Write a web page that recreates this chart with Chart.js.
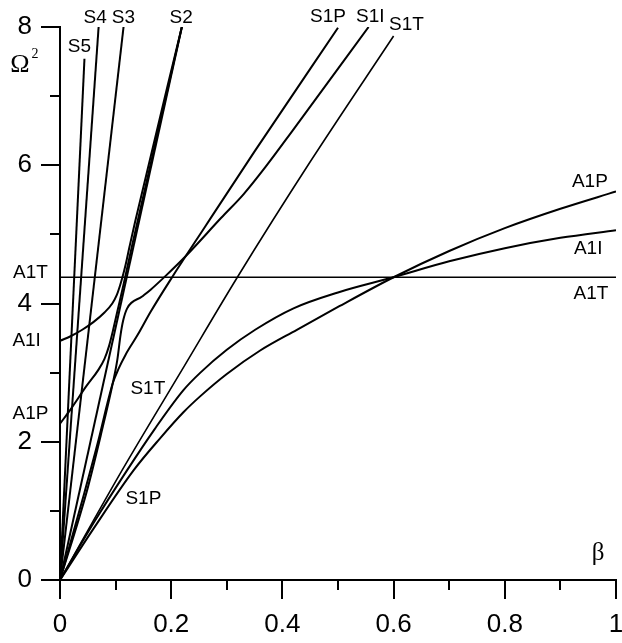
<!DOCTYPE html>
<html>
<head>
<meta charset="utf-8">
<script src="https://cdn.jsdelivr.net/npm/chart.js@4/dist/chart.umd.min.js"></script>
<style>
  html, body { margin: 0; padding: 0; background: #fff; }
  #wrap { width: 622px; height: 643px; }
</style>
</head>
<body>
<div id="wrap"><canvas id="c" width="622" height="643"></canvas></div>
<script>
// Axis ticks
const xMajor = [0, 0.2, 0.4, 0.6, 0.8, 1];
const xMinor = [0.1, 0.3, 0.5, 0.7, 0.9];
const yMajor = [0, 2, 4, 6, 8];
const yMinor = [1, 3, 5, 7];

// Dispersion branches, each point is [beta, Omega^2]
const a1T    = [[0, 4.38], [1, 4.38]];
const s5     = [[0, 0], [0.044, 7.54]];
const s4     = [[0, 0], [0.0697, 8.03]];
const s3     = [[0, 0], [0.1147, 8.03]];
const s2T    = [[0, 0], [0.220, 8.03]];
const s1T    = [[0, 0], [0.1118, 1.59], [0.2224, 3.08], [0.319, 4.38], [0.45, 6.05], [0.600, 7.87]];
// upper branches leaving A1 and following S2
const a1I_up = [[0, 3.46], [0.02, 3.53], [0.04, 3.62], [0.06, 3.73], [0.08, 3.87], [0.094, 4.00],
                [0.102, 4.12], [0.108, 4.26], [0.113, 4.40], [0.118, 4.56], [0.125, 4.82],
                [0.135, 5.18], [0.220, 8.03]];
const a1P_up = [[0, 2.26], [0.02, 2.48], [0.047, 2.80], [0.069, 3.04], [0.080, 3.20], [0.088, 3.38],
                [0.095, 3.60], [0.103, 3.88], [0.115, 4.30], [0.130, 4.85], [0.220, 8.03]];
// branches leaving S2 and ending on the S1 asymptotes
const s2I_up = [[0, 0], [0.0488, 1.30], [0.075, 2.15], [0.095, 2.85], [0.103, 3.18], [0.109, 3.55],
                [0.1135, 3.75], [0.1208, 3.93], [0.1477, 4.10], [0.163, 4.20], [0.190, 4.40],
                [0.2255, 4.68], [0.290, 5.24], [0.330, 5.58], [0.370, 5.98], [0.420, 6.52],
                [0.555, 8.00]];
const s2P_up = [[0, 0], [0.040, 1.15], [0.070, 2.05], [0.085, 2.55], [0.095, 2.85], [0.105, 3.05],
                [0.118, 3.26], [0.140, 3.55], [0.163, 3.88], [0.2016, 4.38], [0.260, 5.10],
                [0.350, 6.20], [0.500, 7.99]];
// lower branches: S1 near the origin, A1 at large beta
const s1I_low = [[0, 0], [0.06, 0.82], [0.1208, 1.59], [0.170, 2.18], [0.2224, 2.75], [0.2525, 3.00],
                 [0.300, 3.33], [0.351, 3.62], [0.420, 3.93], [0.500, 4.16], [0.600, 4.38],
                 [0.700, 4.61], [0.800, 4.80], [0.900, 4.95], [1, 5.06]];
const s1P_low = [[0, 0], [0.06, 0.74], [0.1326, 1.59], [0.180, 2.05], [0.2224, 2.43], [0.2525, 2.66],
                 [0.300, 2.98], [0.360, 3.32], [0.426, 3.62], [0.500, 3.95], [0.600, 4.38],
                 [0.700, 4.76], [0.800, 5.09], [0.900, 5.37], [1, 5.62]];

// Curve names placed next to the branches
const curveLabels = [
  { text: 'S5',  at: [0.035, 7.71] },
  { text: 'S4',  at: [0.0633, 8.13] },
  { text: 'S3',  at: [0.114, 8.13] },
  { text: 'S2',  at: [0.218, 8.13] },
  { text: 'S1P', at: [0.482, 8.15] },
  { text: 'S1I', at: [0.558, 8.15] },
  { text: 'S1T', at: [0.623, 8.03] },
  { text: 'A1P', at: [0.953, 5.76] },
  { text: 'A1I', at: [0.950, 4.79] },
  { text: 'A1T', at: [0.955, 4.14] },
  { text: 'A1T', at: [-0.053, 4.45] },
  { text: 'A1I', at: [-0.060, 3.46] },
  { text: 'A1P', at: [-0.053, 2.40] },
  { text: 'S1T', at: [0.158, 2.76] },
  { text: 'S1P', at: [0.150, 1.17] }
];

const toPts = arr => arr.map(([x, y]) => ({ x, y }));

function branch(arr, width, smooth) {
  return {
    data: toPts(arr),
    showLine: true,
    borderColor: '#000',
    borderWidth: width,
    pointRadius: 0,
    pointHoverRadius: 0,
    fill: false,
    cubicInterpolationMode: smooth ? 'monotone' : 'default',
    tension: 0
  };
}

const datasets = [
  branch(a1T, 1.6, false),
  branch(s5, 2, false),
  branch(s4, 2, false),
  branch(s3, 2, false),
  branch(s2T, 2, false),
  branch(s1T, 1.6, true),
  branch(a1I_up, 2, true),
  branch(a1P_up, 2, true),
  branch(s2I_up, 2, true),
  branch(s2P_up, 2, true),
  branch(s1I_low, 2, true),
  branch(s1P_low, 2, true)
];

const SANS = '"Liberation Sans", Arial, sans-serif';
const SERIF = '"Liberation Serif", "Times New Roman", serif';

// Minor tick marks and text annotations, placed through the chart scales
const decorations = {
  id: 'decorations',
  afterDraw(chart) {
    const { ctx, scales: { x, y }, chartArea: area } = chart;
    ctx.save();
    ctx.strokeStyle = '#000';
    ctx.lineWidth = 2;
    ctx.beginPath();
    xMinor.forEach(v => {
      const px = Math.round(x.getPixelForValue(v));
      ctx.moveTo(px, area.bottom);
      ctx.lineTo(px, area.bottom + 10);
    });
    yMinor.forEach(v => {
      const py = Math.round(y.getPixelForValue(v));
      ctx.moveTo(area.left, py);
      ctx.lineTo(area.left - 10, py);
    });
    ctx.stroke();

    ctx.fillStyle = '#000';
    ctx.textAlign = 'center';
    ctx.textBaseline = 'middle';
    ctx.font = '19px ' + SANS;
    curveLabels.forEach(l => {
      ctx.fillText(l.text, x.getPixelForValue(l.at[0]), y.getPixelForValue(l.at[1]));
    });

    // axis titles
    ctx.font = '26px ' + SERIF;
    ctx.fillText('\u03A9', x.getPixelForValue(-0.072), y.getPixelForValue(7.45));
    ctx.font = '14px ' + SERIF;
    ctx.fillText('2', x.getPixelForValue(-0.045), y.getPixelForValue(7.60));
    ctx.font = '25px ' + SERIF;
    ctx.fillText('\u03B2', x.getPixelForValue(0.968), y.getPixelForValue(0.38));
    ctx.restore();
  }
};

new Chart(document.getElementById('c'), {
  type: 'scatter',
  data: { datasets },
  options: {
    responsive: false,
    devicePixelRatio: 1,
    animation: false,
    events: [],
    layout: { padding: { top: 27, right: 6, left: 0, bottom: 0 } },
    plugins: { legend: { display: false }, tooltip: { enabled: false } },
    scales: {
      x: {
        type: 'linear', min: 0, max: 1,
        afterBuildTicks: s => { s.ticks = xMajor.map(v => ({ value: v })); },
        afterFit: s => { s.height = 63; s.paddingLeft = 0; s.paddingRight = 0; },
        border: { color: '#000', width: 2 },
        grid: { drawOnChartArea: false, tickLength: 19, color: '#000', lineWidth: 2 },
        ticks: {
          color: '#000', padding: 10, maxRotation: 0,
          font: { family: SANS, size: 26 },
          callback: v => String(v)
        }
      },
      y: {
        type: 'linear', min: 0, max: 8,
        afterBuildTicks: s => { s.ticks = yMajor.map(v => ({ value: v })); },
        afterFit: s => { s.width = 60; s.paddingTop = 0; s.paddingBottom = 0; },
        border: { color: '#000', width: 2 },
        grid: { drawOnChartArea: false, tickLength: 19, color: '#000', lineWidth: 2 },
        ticks: {
          color: '#000', padding: 9,
          font: { family: SANS, size: 26 },
          callback: v => String(v)
        }
      }
    }
  },
  plugins: [decorations]
});
</script>
</body>
</html>
